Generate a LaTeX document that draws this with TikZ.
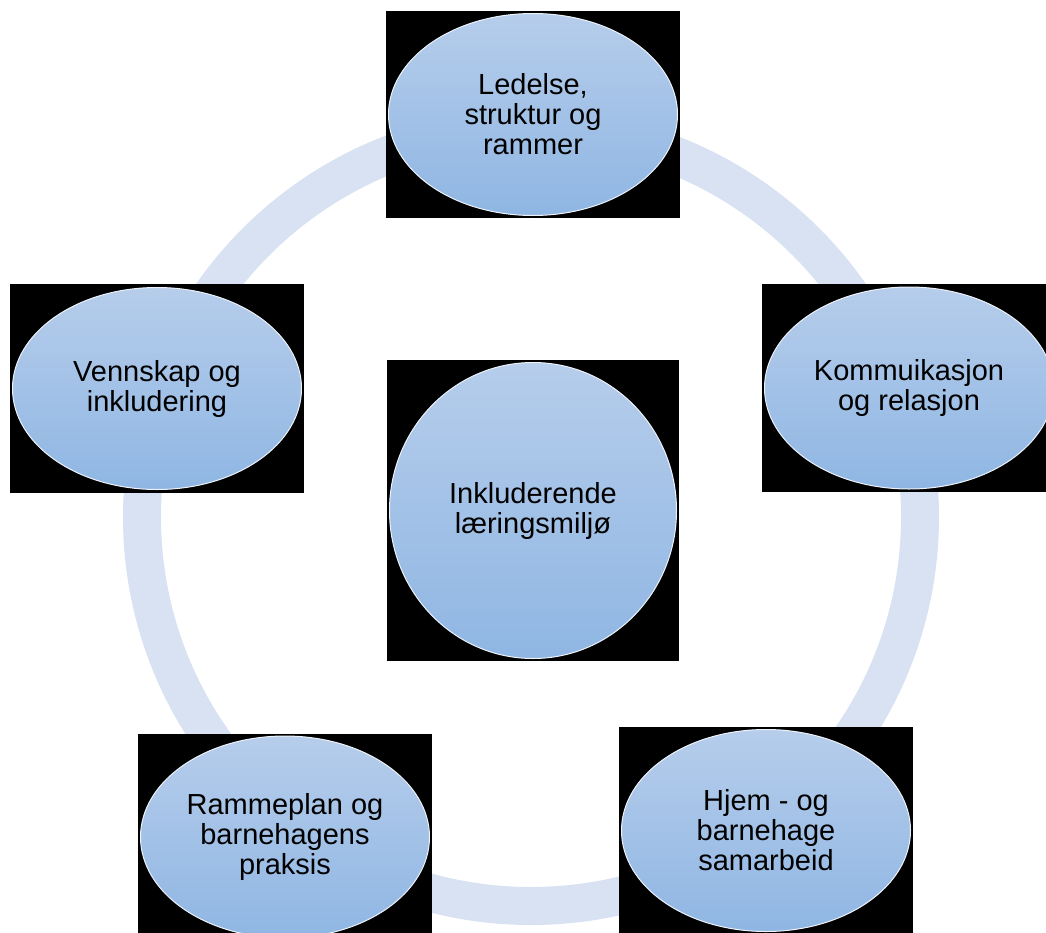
\documentclass[tikz,border=0pt]{standalone}
\usepackage{fontspec}
\setmainfont{Liberation Sans}
\usetikzlibrary{shapes}
\definecolor{ringblue}{RGB}{216,226,242}
\definecolor{ovaltop}{RGB}{182,205,235}
\definecolor{ovalbot}{RGB}{143,182,227}

\begin{document}
\begin{tikzpicture}[
  frame/.style={fill=black,inner sep=0pt,minimum width=294bp,minimum height=207bp},
  oval/.style={ellipse,draw=white!75!ovaltop,line width=1bp,top color=ovaltop,bottom color=ovalbot,inner sep=0pt,minimum width=289bp,minimum height=202bp,align=center,font=\fontsize{29bp}{30bp}\selectfont}]

\useasboundingbox (0bp,0bp) rectangle (1046bp,-933bp);

% ring behind the boxes
\coordinate (C) at (531bp,-517bp);
\draw [ringblue,line width=38bp] (C) circle (389bp);

\node (B1) at (533bp,-114.5bp)[frame] {};
\node (B2) at (909bp,-388bp)[frame,minimum height=208bp] {};
\node (B3) at (157bp,-388.5bp)[frame,minimum height=209bp] {};
\node (B4) at (533bp,-510.5bp)[frame,minimum width=292bp,minimum height=301bp] {};
\node (B5) at (285bp,-837bp)[frame,minimum height=206bp] {};
\node (B6) at (766bp,-830.5bp)[frame] {};

\node (E1) at (B1.center)[oval] {Ledelse,\\struktur og\\rammer};
\node (E2) at (B2.center)[oval] {Kommuikasjon\\og relasjon};
\node (E3) at (B3.center)[oval] {Vennskap og\\inkludering};
\node (E4) at (B4.center)[oval,minimum width=287bp,minimum height=296bp] {Inkluderende\\læringsmiljø};
\node (E5) at (B5.center)[oval] {Rammeplan og\\barnehagens\\praksis};
\node (E6) at (B6.center)[oval] {Hjem - og\\barnehage\\samarbeid};
\end{tikzpicture}
\end{document}
